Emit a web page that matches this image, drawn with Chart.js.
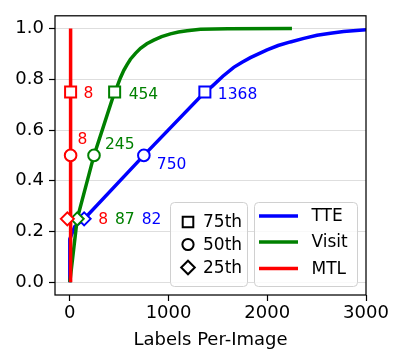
<!DOCTYPE html>
<html lang="en">
<head>
<meta charset="UTF-8">
<title>Labels Per-Image CDF</title>
<script src="https://cdn.jsdelivr.net/npm/chart.js@4/dist/chart.umd.min.js"></script>
<style>
  html, body { margin: 0; padding: 0; background: #fff; }
  #wrap { width: 399px; height: 351px; }
</style>
</head>
<body>
<div id="wrap"><canvas id="cdfChart" width="399" height="351"></canvas></div>
<script>
// cumulative curves
const tteX   = [0, 0, 50, 145, 750, 1368, 1441, 1550, 1660, 1745, 1829, 1998, 2110, 2234, 2370, 2504, 2640, 2773, 3000, 3200];
const tteY   = [0, 0.17, 0.22, 0.25, 0.5, 0.75, 0.772, 0.812, 0.847, 0.867, 0.885, 0.916, 0.933, 0.947, 0.961, 0.973, 0.981, 0.988, 0.995, 0.998];
const visitX = [0, 75, 245, 454, 480, 512, 547, 580, 614, 665, 716, 780, 850, 930, 1019, 1100, 1188, 1323, 1600, 2250];
const visitY = [0, 0.25, 0.5, 0.75, 0.772, 0.805, 0.835, 0.858, 0.879, 0.902, 0.922, 0.940, 0.954, 0.968, 0.979, 0.986, 0.991, 0.997, 0.999, 1.0];
const mtlX   = [8, 8];
const mtlY   = [0, 1.0];

// percentile markers (25th, 50th, 75th)
const pctY        = [0.25, 0.5, 0.75];
const pctNames    = ['25th', '50th', '75th'];
const tteMarkX    = [145, 750, 1368];
const visitMarkX  = [75, 245, 454];
const mtlMarkX    = [-25, 8, 8];
const tteLabels   = ['82', '750', '1368'];
const visitLabels = ['87', '245', '454'];
const mtlLabels   = ['8', '8', '8'];

const seriesNames = ['TTE', 'Visit', 'MTL'];
const xTicks = [0, 1000, 2000, 3000];
const yTicks = [0, 0.2, 0.4, 0.6, 0.8, 1.0];

const FONT = 'DejaVu Sans';
const colors = { TTE: '#0000ff', Visit: '#008000', MTL: '#ff0000' };
const markerStyles = ['rectRot', 'circle', 'rect'];
const markerRadius = { rectRot: 6.5, circle: 5.8, rect: 7.8 };

function pts(xs, ys) {
    return xs.map((x, i) => ({ x: x, y: ys[i] }));
}

function curve(name, xs, ys) {
    return {
        label: name,
        data: pts(xs, ys),
        showLine: true,
        borderColor: colors[name],
        borderWidth: 3.5,
        pointRadius: 0,
        tension: 0,
        fill: false
    };
}

function markers(name, xs) {
    return {
        label: name + ' pct',
        data: pts(xs, pctY),
        showLine: false,
        pointStyle: markerStyles,
        pointRadius: markerStyles.map(s => markerRadius[s]),
        pointBorderWidth: 2,
        pointBorderColor: colors[name],
        pointBackgroundColor: '#ffffff'
    };
}

// frame round the axes, like matplotlib spines
const framePlugin = {
    id: 'frame',
    afterDatasetsDraw(chart) {
        const { ctx, chartArea: a } = chart;
        ctx.save();
        ctx.strokeStyle = '#000';
        ctx.lineWidth = 1.25;
        ctx.strokeRect(a.left, a.top, a.right - a.left, a.bottom - a.top);
        ctx.restore();
    }
};

// percentile value labels next to the markers
const labelPlugin = {
    id: 'pctLabels',
    afterDatasetsDraw(chart) {
        const { ctx, scales: { x, y } } = chart;
        const groups = [
            { name: 'TTE', xs: tteMarkX, labels: tteLabels, off: [null, [13, 10], [13, 3]] },
            { name: 'Visit', xs: visitMarkX, labels: visitLabels, off: [null, [11, -10], [14, 3]] },
            { name: 'MTL', xs: mtlMarkX, labels: mtlLabels, off: [null, [7, -15], [13, 2.5]] }
        ];
        ctx.save();
        ctx.font = '15.5px "' + FONT + '"';
        ctx.textBaseline = 'middle';
        ctx.textAlign = 'left';
        groups.forEach(g => {
            for (let i = 1; i < pctY.length; i++) {
                ctx.fillStyle = colors[g.name];
                ctx.fillText(g.labels[i], x.getPixelForValue(g.xs[i]) + g.off[i][0], y.getPixelForValue(pctY[i]) + g.off[i][1]);
            }
        });
        // 25th values share one row to the right of the blue diamond
        let tx = x.getPixelForValue(tteMarkX[0]) + 14;
        const ty = y.getPixelForValue(pctY[0]) + 1.5;
        [['MTL', mtlLabels[0]], ['Visit', visitLabels[0]], ['TTE', tteLabels[0]]].forEach(([name, txt]) => {
            ctx.fillStyle = colors[name];
            ctx.fillText(txt, tx, ty);
            tx += ctx.measureText(txt).width + 7;
        });
        ctx.restore();
    }
};

function drawMarker(ctx, style, cx, cy) {
    ctx.beginPath();
    if (style === 'rect') {
        ctx.rect(cx - 5.3, cy - 5.3, 10.6, 10.6);
    } else if (style === 'circle') {
        ctx.arc(cx, cy, 5.6, 0, Math.PI * 2);
    } else {
        ctx.moveTo(cx - 6.8, cy);
        ctx.lineTo(cx, cy - 6.8);
        ctx.lineTo(cx + 6.8, cy);
        ctx.lineTo(cx, cy + 6.8);
        ctx.closePath();
    }
    ctx.fillStyle = '#fff';
    ctx.fill();
    ctx.stroke();
}

function legendBox(ctx, x, y, w, h) {
    ctx.beginPath();
    ctx.roundRect(x, y, w, h, 4);
    ctx.fillStyle = 'rgba(255,255,255,0.8)';
    ctx.fill();
    ctx.strokeStyle = '#d0d0d0';
    ctx.lineWidth = 1;
    ctx.stroke();
}

// two legends: marker shapes and series colours
const legendPlugin = {
    id: 'twoLegends',
    afterDraw(chart) {
        const ctx = chart.ctx;
        ctx.save();
        ctx.font = '17px "' + FONT + '"';
        ctx.textBaseline = 'middle';
        ctx.textAlign = 'left';

        legendBox(ctx, 170.5, 202.5, 77, 84);
        const rowsL = [222, 244.5, 267.5];
        [2, 1, 0].forEach((pi, r) => {
            ctx.strokeStyle = '#000';
            ctx.lineWidth = 2;
            drawMarker(ctx, markerStyles[pi], 188, rowsL[r]);
            ctx.fillStyle = '#000';
            ctx.fillText(pctNames[pi], 203, rowsL[r] + 1);
        });

        legendBox(ctx, 254.5, 202.5, 103, 84);
        const rowsR = [216, 242, 268.5];
        seriesNames.forEach((name, r) => {
            ctx.strokeStyle = colors[name];
            ctx.lineWidth = 3.5;
            ctx.beginPath();
            ctx.moveTo(259, rowsR[r]);
            ctx.lineTo(298, rowsR[r]);
            ctx.stroke();
            ctx.fillStyle = '#000';
            ctx.fillText(name, 311.5, rowsR[r] + 1);
        });
        ctx.restore();
    }
};

const ctx = document.getElementById('cdfChart').getContext('2d');
new Chart(ctx, {
    type: 'scatter',
    data: {
        datasets: [
            markers('MTL', mtlMarkX),
            curve('MTL', mtlX, mtlY),
            markers('Visit', visitMarkX),
            curve('Visit', visitX, visitY),
            markers('TTE', tteMarkX),
            curve('TTE', tteX, tteY)
        ]
    },
    options: {
        responsive: false,
        animation: false,
        layout: { padding: { left: 0, right: 33, top: 3, bottom: 0 } },
        plugins: {
            legend: { display: false },
            tooltip: { enabled: false }
        },
        scales: {
            x: {
                type: 'linear',
                min: -150,
                max: 3000,
                afterBuildTicks: s => { s.ticks = xTicks.map(v => ({ value: v })); },
                afterFit: s => { s.height = 56; },
                border: { display: false },
                grid: { drawOnChartArea: false, tickLength: 6, tickColor: '#000', tickWidth: 1.2 },
                ticks: {
                    color: '#000',
                    padding: 2,
                    maxRotation: 0,
                    font: { family: FONT, size: 18 },
                    callback: v => String(v)
                },
                title: {
                    display: true,
                    text: 'Labels Per-Image',
                    color: '#000',
                    font: { family: FONT, size: 18 },
                    padding: { top: 0, bottom: 0 }
                }
            },
            y: {
                type: 'linear',
                min: -0.05,
                max: 1.05,
                afterBuildTicks: s => { s.ticks = yTicks.map(v => ({ value: v })); },
                afterFit: s => { s.width = 55; },
                border: { display: false },
                grid: { color: '#dedede', lineWidth: 1, tickLength: 6, tickColor: '#000', tickWidth: 1.2 },
                ticks: {
                    color: '#000',
                    padding: 5,
                    font: { family: FONT, size: 18 },
                    callback: v => v.toFixed(1)
                }
            }
        }
    },
    plugins: [framePlugin, labelPlugin, legendPlugin]
});
</script>
</body>
</html>
